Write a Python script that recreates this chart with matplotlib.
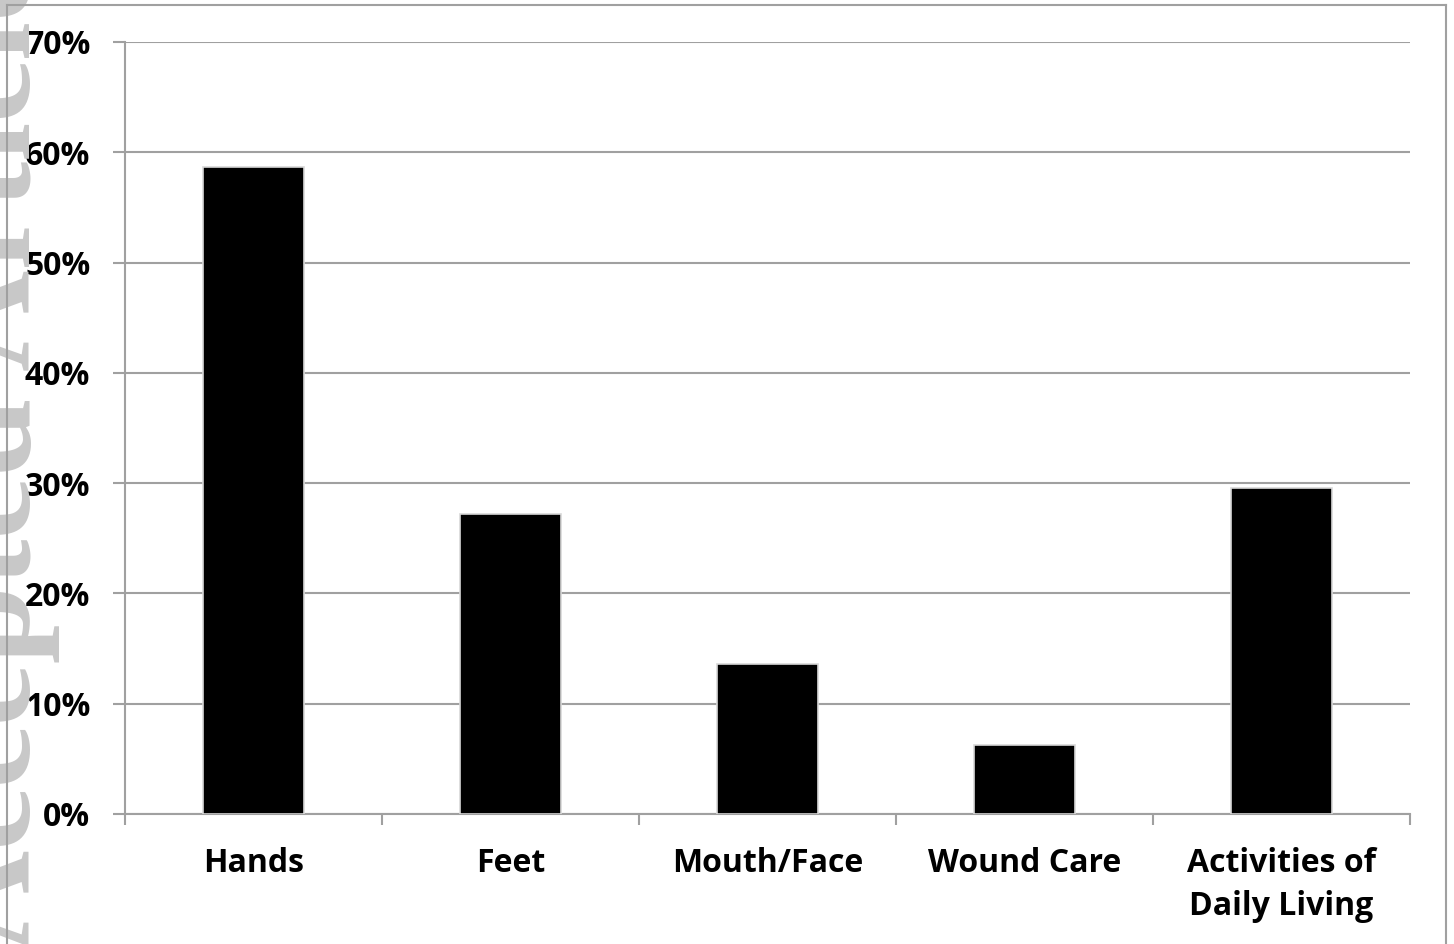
import matplotlib.pyplot as plt
from matplotlib.lines import Line2D
import numpy as np

categories = ['Hands', 'Feet', 'Mouth/Face', 'Wound Care', 'Activities of\nDaily Living']
values = [58.7, 27.2, 13.6, 6.3, 29.6]
yticks = [0, 10, 20, 30, 40, 50, 60, 70]
ytick_labels = ['0%', '10%', '20%', '30%', '40%', '50%', '60%', '70%']

grey = '#a0a0a0'

fig = plt.figure(figsize=(14.54, 9.44), dpi=100)
ax = fig.add_axes([125 / 1454, 1 - 814 / 944, (1410 - 125) / 1454, (814 - 42) / 944])

# watermark, only partly visible at the left edge
fig.text(30 / 1454, 1 - 455 / 944, 'Accepted Article', rotation=90, rotation_mode='anchor',
         ha='center', va='baseline', fontsize=101, fontweight='bold',
         family='Liberation Serif', color='#c8c8c8', zorder=0)

# page frame
fig.add_artist(Line2D([7 / 1454, 7 / 1454], [0, 1 - 5 / 944], color=grey, lw=1.5))
fig.add_artist(Line2D([7 / 1454, 1446 / 1454], [1 - 5 / 944, 1 - 5 / 944], color=grey, lw=1.5))
fig.add_artist(Line2D([1446 / 1454, 1446 / 1454], [0, 1 - 5 / 944], color=grey, lw=1.5))

x = np.arange(len(categories))
ax.bar(x, values, width=0.39, color='black', edgecolor='#d8d8d8', linewidth=1.2, zorder=3)

ax.set_xlim(-0.5, len(categories) - 0.5)
ax.set_ylim(0, 70)
ax.set_yticks(yticks)
ax.set_yticklabels(ytick_labels)
ax.set_xticks(x)
ax.set_xticklabels(categories)
ax.set_xticks(np.arange(len(categories) + 1) - 0.5, minor=True)

ax.yaxis.grid(True, color=grey, linewidth=1.5, zorder=0)
for s in ['top', 'right']:
    ax.spines[s].set_visible(False)
ax.spines['left'].set_color(grey)
ax.spines['bottom'].set_color(grey)
ax.spines['left'].set_linewidth(1.5)
ax.spines['bottom'].set_linewidth(1.5)

ax.tick_params(axis='y', length=9, width=1.5, color=grey, pad=16)
ax.tick_params(axis='x', which='major', length=0, pad=24)
ax.tick_params(axis='x', which='minor', length=8, width=1.5, color=grey)

for lab in ax.get_yticklabels() + ax.get_xticklabels():
    lab.set_fontfamily('Open Sans')
    lab.set_fontweight('bold')
    lab.set_fontsize(23)
for lab in ax.get_xticklabels():
    lab.set_linespacing(1.38)

fig.savefig('out.png', dpi=100)
